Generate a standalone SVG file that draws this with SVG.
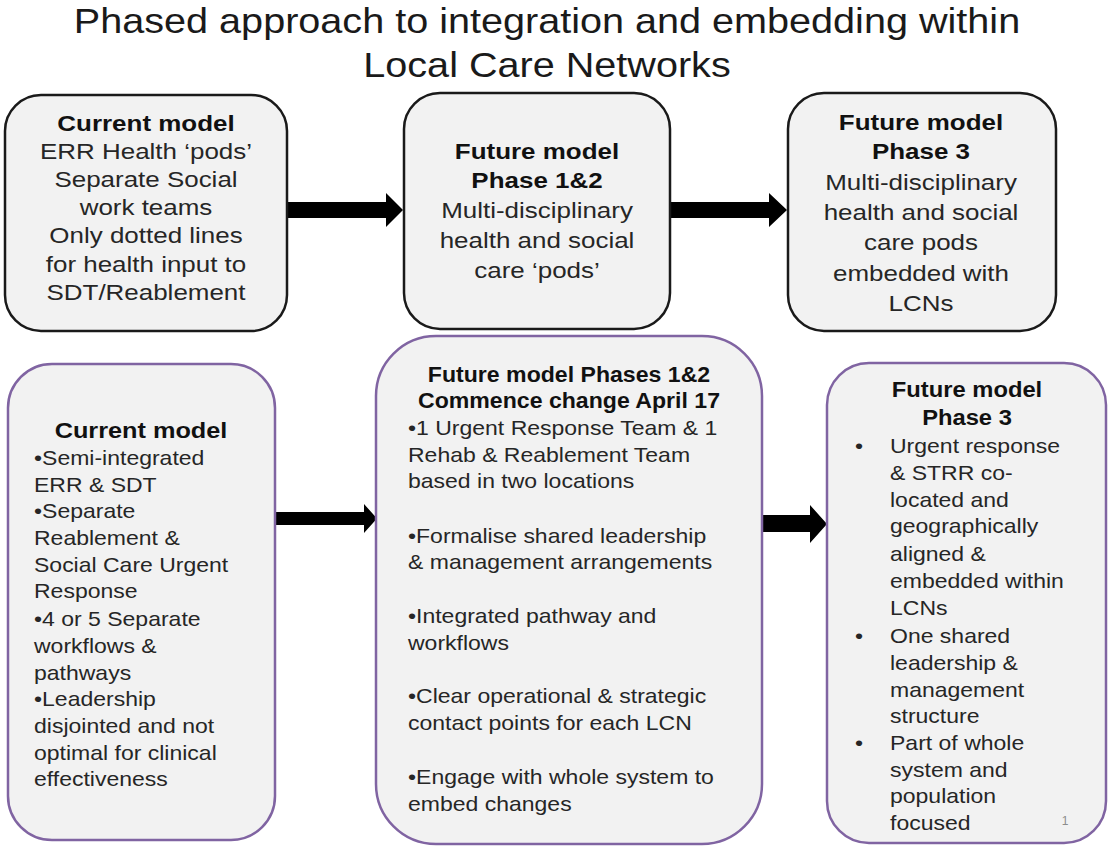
<svg xmlns="http://www.w3.org/2000/svg" width="1108" height="846" viewBox="0 0 1108 846">
  <defs>
    <style>
      text { font-family: "Liberation Sans", Arial, sans-serif; fill: #262626; }
      .title { font-size: 36px; fill: #1a1a1a; text-anchor: middle; }
      .hd { font-size: 22px; font-weight: bold; fill: #111; }
      .bd { font-size: 22px; }
      .sm { font-size: 20px; }
      .c { text-anchor: middle; }
      .box-top { fill: #f2f2f2; stroke: #1a1a1a; stroke-width: 2.5; }
      .box-low { fill: #f2f2f2; stroke: #8064a2; stroke-width: 2.5; }
      .arrow { fill: #000; }
      .pg { font-size: 12px; fill: #8c8c8c; }
    </style>
  </defs>

  <rect width="1108" height="846" fill="#ffffff"/>

  <!-- heading -->
  <g id="title" transform="translate(547 0) scale(1.1 1)">
    <text class="title" x="0" y="33">Phased approach to integration and embedding within</text>
    <text class="title" x="0" y="77">Local Care Networks</text>
  </g>

  <!-- block arrows between stages -->
  <g id="connectors">
    <polygon class="arrow" points="287,202 386,202 386,193 403,210 386,227 386,218 287,218"/>
    <polygon class="arrow" points="670,202 769,202 769,193 787,210 769,227 769,218 670,218"/>
    <polygon class="arrow" points="275,512 364,512 364,504 377,518.5 364,533 364,525 275,525"/>
    <polygon class="arrow" points="762,515 810,515 810,505 827,524 810,543 810,532 762,532"/>
  </g>

  <!-- top row: service models -->
  <g id="top-current">
    <rect class="box-top" x="5" y="95" width="282" height="236" rx="36"/>
    <g transform="translate(146 0) scale(1.18 1)">
      <text class="hd c" x="0" y="131">Current model</text>
      <text class="bd c" x="0" y="159">ERR Health ‘pods’</text>
      <text class="bd c" x="0" y="187">Separate Social</text>
      <text class="bd c" x="0" y="215">work teams</text>
      <text class="bd c" x="0" y="243">Only dotted lines</text>
      <text class="bd c" x="0" y="272">for health input to</text>
      <text class="bd c" x="0" y="300">SDT/Reablement</text>
    </g>
  </g>

  <g id="top-phase12">
    <rect class="box-top" x="404" y="93" width="266" height="236" rx="36"/>
    <g transform="translate(537 0) scale(1.18 1)">
      <text class="hd c" x="0" y="159">Future model</text>
      <text class="hd c" x="0" y="188">Phase 1&amp;2</text>
      <text class="bd c" x="0" y="218">Multi-disciplinary</text>
      <text class="bd c" x="0" y="248">health and social</text>
      <text class="bd c" x="0" y="278">care ‘pods’</text>
    </g>
  </g>

  <g id="top-phase3">
    <rect class="box-top" x="788" y="93" width="268" height="238" rx="36"/>
    <g transform="translate(921 0) scale(1.18 1)">
      <text class="hd c" x="0" y="130">Future model</text>
      <text class="hd c" x="0" y="159">Phase 3</text>
      <text class="bd c" x="0" y="190">Multi-disciplinary</text>
      <text class="bd c" x="0" y="220">health and social</text>
      <text class="bd c" x="0" y="250">care pods</text>
      <text class="bd c" x="0" y="281">embedded  with</text>
      <text class="bd c" x="0" y="311">LCNs</text>
    </g>
  </g>

  <!-- bottom row: team structure -->
  <g id="low-current">
    <rect class="box-low" x="8" y="364" width="267" height="476" rx="44"/>
    <g transform="translate(141 0) scale(1.15 1)">
      <text class="hd c" x="0" y="438">Current model</text>
    </g>
    <g transform="translate(34 0) scale(1.15 1)">
      <text class="sm" x="0" y="465">•Semi-integrated</text>
      <text class="sm" x="0" y="492">ERR &amp; SDT</text>
      <text class="sm" x="0" y="518">•Separate</text>
      <text class="sm" x="0" y="545">Reablement &amp;</text>
      <text class="sm" x="0" y="572">Social Care Urgent</text>
      <text class="sm" x="0" y="598">Response</text>
      <text class="sm" x="0" y="626">•4 or 5 Separate</text>
      <text class="sm" x="0" y="653">workflows &amp;</text>
      <text class="sm" x="0" y="680">pathways</text>
      <text class="sm" x="0" y="706">•Leadership</text>
      <text class="sm" x="0" y="733">disjointed and not</text>
      <text class="sm" x="0" y="760">optimal for clinical</text>
      <text class="sm" x="0" y="786">effectiveness</text>
    </g>
  </g>

  <g id="low-phase12">
    <rect class="box-low" x="376" y="336" width="386" height="508" rx="60"/>
    <g transform="translate(569 0) scale(1.05 1)">
      <text class="hd c" x="0" y="382">Future model Phases 1&amp;2</text>
      <text class="hd c" x="0" y="408">Commence change April 17</text>
    </g>
    <g transform="translate(408 0) scale(1.15 1)">
      <text class="sm" x="0" y="435">•1 Urgent Response Team &amp; 1</text>
      <text class="sm" x="0" y="462">Rehab &amp; Reablement Team</text>
      <text class="sm" x="0" y="488">based in two locations</text>
      <text class="sm" x="0" y="543">•Formalise shared leadership</text>
      <text class="sm" x="0" y="569">&amp; management arrangements</text>
      <text class="sm" x="0" y="623">•Integrated pathway and</text>
      <text class="sm" x="0" y="650">workflows</text>
      <text class="sm" x="0" y="703">•Clear operational &amp; strategic</text>
      <text class="sm" x="0" y="730">contact points for each LCN</text>
      <text class="sm" x="0" y="784">•Engage with whole system to</text>
      <text class="sm" x="0" y="811">embed changes</text>
    </g>
  </g>

  <g id="low-phase3">
    <rect class="box-low" x="827" y="363" width="279" height="480" rx="42"/>
    <g transform="translate(967 0) scale(1.08 1)">
      <text class="hd c" x="0" y="397">Future model</text>
      <text class="hd c" x="0" y="425">Phase 3</text>
    </g>
    <g transform="translate(855 0) scale(1.15 1)">
      <text class="sm" x="0" y="453">•</text>
      <text class="sm" x="0" y="643">•</text>
      <text class="sm" x="0" y="750">•</text>
    </g>
    <g transform="translate(890 0) scale(1.15 1)">
      <text class="sm" x="0" y="453">Urgent response</text>
      <text class="sm" x="0" y="480">&amp; STRR co-</text>
      <text class="sm" x="0" y="507">located and</text>
      <text class="sm" x="0" y="533">geographically</text>
      <text class="sm" x="0" y="561">aligned &amp;</text>
      <text class="sm" x="0" y="588">embedded within</text>
      <text class="sm" x="0" y="615">LCNs</text>
      <text class="sm" x="0" y="643">One shared</text>
      <text class="sm" x="0" y="670">leadership &amp;</text>
      <text class="sm" x="0" y="697">management</text>
      <text class="sm" x="0" y="723">structure</text>
      <text class="sm" x="0" y="750">Part of whole</text>
      <text class="sm" x="0" y="777">system and</text>
      <text class="sm" x="0" y="803">population</text>
      <text class="sm" x="0" y="830">focused</text>
    </g>
    <text class="pg" x="1065" y="825" text-anchor="middle">1</text>
  </g>
</svg>
